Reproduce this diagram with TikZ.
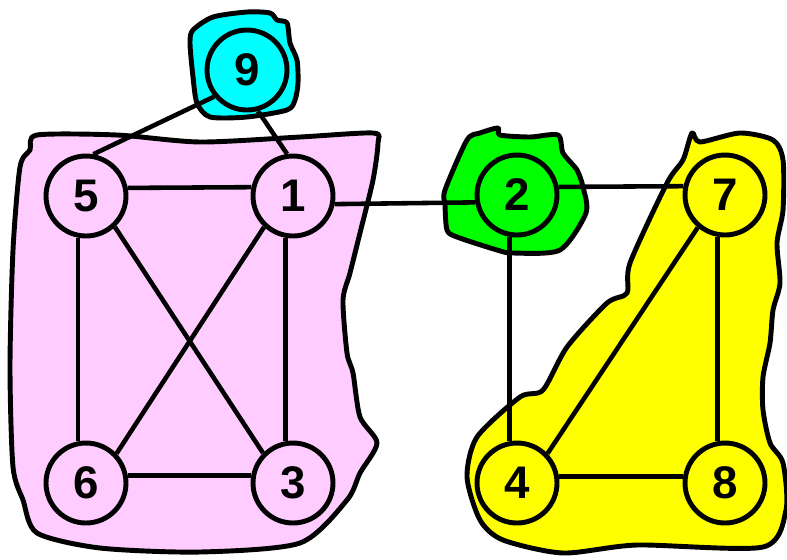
\documentclass[tikz,border=0pt]{standalone}
\usepackage{fontspec}
\setmainfont{Liberation Sans}
\usepackage{xcolor}
\usetikzlibrary{arrows.meta}
\definecolor{blobpink}{RGB}{255,204,255}
\definecolor{blobcyan}{RGB}{0,255,255}
\definecolor{blobgreen}{RGB}{0,255,0}
\definecolor{blobyellow}{RGB}{255,255,0}
\tikzset{
  vtx/.style  = {circle, draw, line width=2.8pt, minimum size=1.6cm, inner sep=0pt,
                 font=\fontsize{26}{30}\selectfont\bfseries},
  edg/.style  = {line width=2.6pt},
  blob/.style = {draw, line width=2.8pt, line join=round, smooth cycle, tension=0.45},
}

\begin{document}
\begin{tikzpicture}[x=0.02cm, y=-0.02cm]
\useasboundingbox (0,0) rectangle (787,559);
% regions
\draw[blob, fill=blobpink] plot coordinates {(37,135) (117,135) (200,142) (300,137) (373,133)
  (378,143) (373,180) (360,233) (350,273) (343,300) (347,353) (353,373) (360,417) (377,443)
  (360,473) (347,500) (300,543) (200,552) (100,548) (37,533) (23,500) (13,467) (10,367)
  (13,250) (20,167) (30,150)};
\draw[blob, fill=blobcyan] plot coordinates {(193,30) (213,17) (247,12) (270,13) (277,20)
  (287,23) (290,43) (297,60) (298,83) (295,100) (287,110) (247,117) (210,117) (197,103)
  (193,77) (190,43)};
\draw[blob, fill=blobgreen] plot coordinates {(445,190) (467,140) (480,133) (498,128) (500,135)
  (530,137) (558,135) (563,153) (577,170) (583,187) (586,213) (560,250) (513,253) (497,250)
  (457,237) (447,230) (445,205)};
\draw[blob, fill=blobyellow] plot coordinates {(692,133) (700,142) (740,133) (773,140) (783,160)
  (783,210) (777,243) (780,283) (773,310) (770,343) (763,377) (763,410) (770,443) (783,463)
  (786,510) (763,547) (637,545) (563,553) (503,540) (480,520) (467,477) (477,437) (520,397)
  (543,390) (567,347) (607,303) (627,293) (630,263) (667,183) (683,160)};
% vertices
\node[vtx, fill=blobcyan] (n9) at (247, 70) {9};
\node[vtx, fill=blobpink] (n5) at (86, 196) {5};
\node[vtx, fill=blobpink] (n1) at (293, 196) {1};
\node[vtx, fill=blobpink] (n6) at (86, 483) {6};
\node[vtx, fill=blobpink] (n3) at (293, 483) {3};
\node[vtx, fill=blobgreen] (n2) at (517, 195) {2};
\node[vtx, fill=blobyellow] (n7) at (725, 195) {7};
\node[vtx, fill=blobyellow] (n4) at (517, 483) {4};
\node[vtx, fill=blobyellow] (n8) at (725, 483) {8};
% edges
\draw[edg] (n9.-141) to (n5.80) {} ;
\draw[edg] (n9.-75) to (n1.98) {} ;
\draw[edg] (n5.11.5) to (n1.168.5) {} ;
\draw[edg] (n1.-11) to (n2.-170) {} ;
\draw[edg] (n2.11.5) to (n7.168.5) {} ;
\draw[edg] (n5.-101.5) to (n6.101.5) {} ;
\draw[edg] (n1.-100) to (n3.100) {} ;
\draw[edg] (n5.-47) to (n3.135) {} ;
\draw[edg] (n1.-133) to (n6.44) {} ;
\draw[edg] (n6.10) to (n3.170) {} ;
\draw[edg] (n2.-100) to (n4.100) {} ;
\draw[edg] (n7.-100) to (n8.100) {} ;
\draw[edg] (n7.-130) to (n4.44) {} ;
\draw[edg] (n4.9) to (n8.171) {} ;
\end{tikzpicture}
\end{document}
